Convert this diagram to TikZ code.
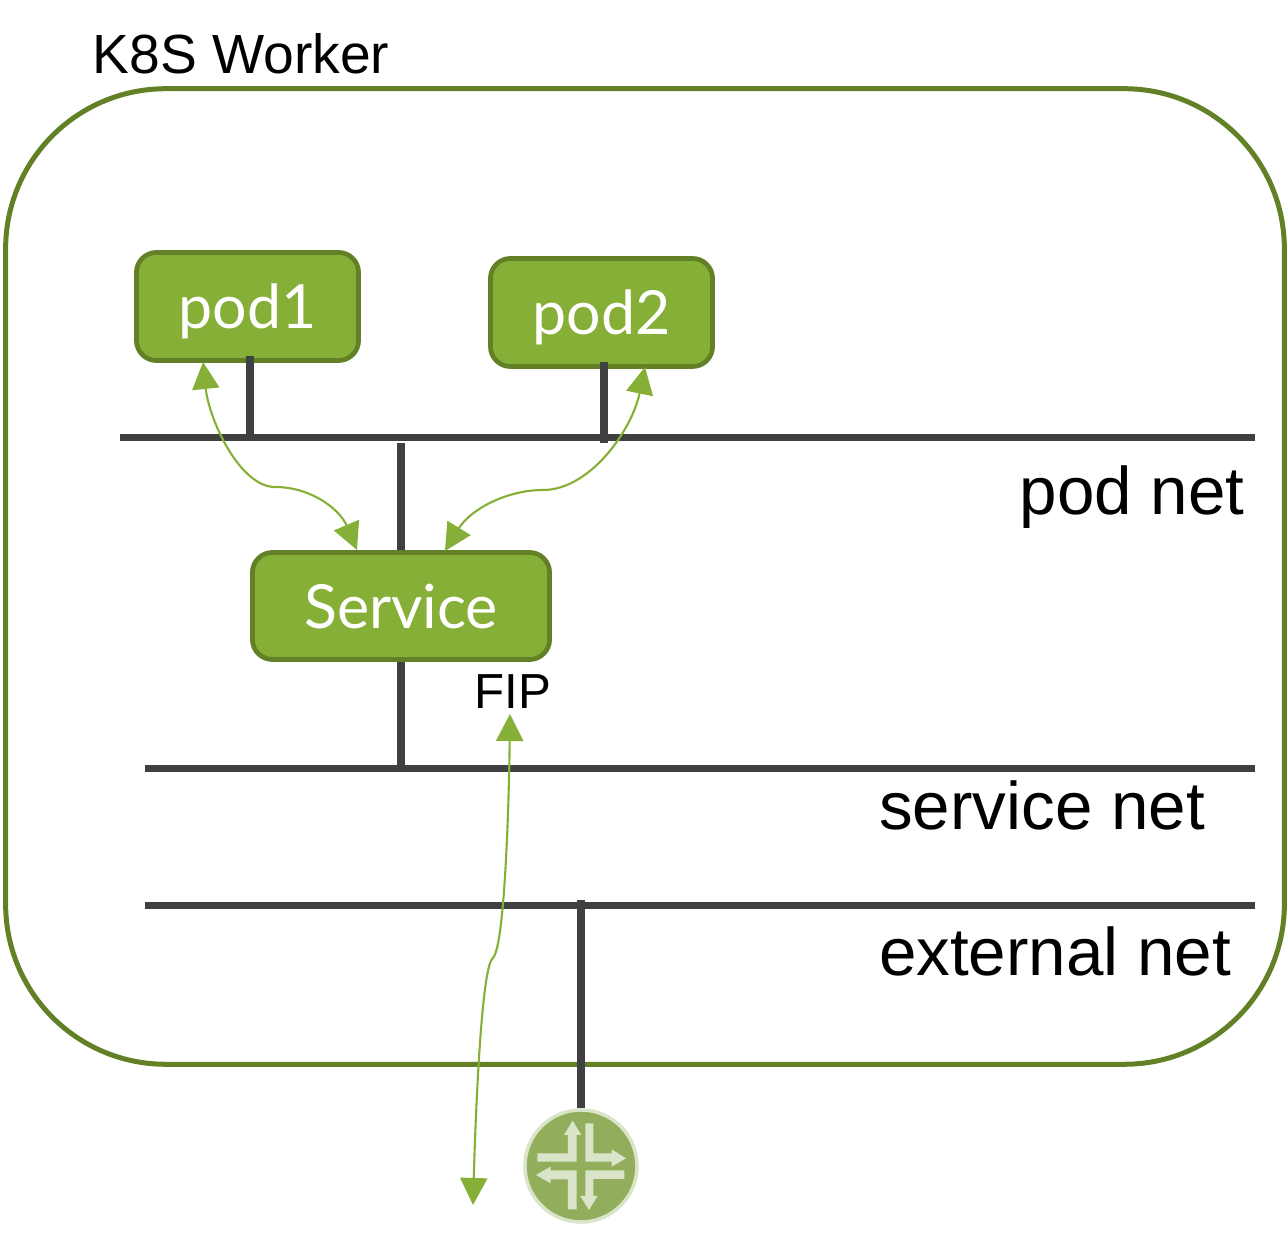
\documentclass[tikz,border=0pt]{standalone}
\usepackage{fontspec}
\setmainfont{Liberation Sans}
\newfontfamily\latofont{Lato}
\usepackage{xcolor}
\usepackage{tikz}
\usetikzlibrary{arrows.meta, positioning}
\definecolor{boxfill}{HTML}{85AF36}
\definecolor{boxedge}{HTML}{628126}
\definecolor{netgray}{HTML}{404040}
\definecolor{routerfill}{HTML}{92AE5C}
\definecolor{routerpale}{HTML}{DAE4C8}
\tikzset{
  podbox/.style = {draw = boxedge, fill = boxfill, line width = 0.047cm, rounded corners = 0.2cm, text = white, font = \latofont\fontsize{17.3}{21}\selectfont, minimum width = 2.22cm, minimum height = 1.08cm, inner sep = 0pt, text height = 0.6cm, text depth = 0.16cm},
  netlabel/.style = {font = \fontsize{19.15}{23}\selectfont, inner sep = 0pt},
  netline/.style = {draw = netgray, line width = 0.072cm},
  flow/.style = {draw = boxfill, line width = 0.6pt, {Triangle[length = 0.27cm, width = 0.27cm]}-{Triangle[length = 0.27cm, width = 0.27cm]}},
}

\begin{document}
\begin{tikzpicture}[x = 0.01cm, y = -0.01cm]
\useasboundingbox (0, 0) rectangle (1287, 1237);
\node[draw = boxedge, line width = 0.05cm, rounded corners = 1.6cm, minimum width = 12.78cm, minimum height = 9.75cm] at (645, 576.5) (worker) {};
\node[font = \fontsize{15.7}{19}\selectfont, inner sep = 0pt] at (241, 54) (workerlabel) {K8S Worker};
\node[podbox] at (247.5, 306.5) (pod1) {pod1};
\node[podbox] at (601.5, 312.5) (pod2) {pod2};
\node[podbox, minimum width = 2.97cm, minimum height = 1.07cm] at (401, 606) (service) {Service};
\node[font = \fontsize{14}{17}\selectfont, inner sep = 0pt] at (513, 692) (fip) {FIP};
\node[netlabel] at (1132, 497) (podlabel) {pod net};
\node[netlabel] at (1042, 805) (servicelabel) {service net};
\node[netlabel] at (1055, 951) (externallabel) {external net};
\node[circle, draw = routerpale, fill = routerfill, line width = 0.035cm, minimum size = 1.12cm, inner sep = 0pt] at (581, 1166) (router) {};
% router arrows
\begin{scope}[shift = {(440, 1090)}, scale = 0.3333]
\fill[routerpale] (292, 190) -- (384, 190) -- (384, 135) -- (372, 135) -- (398, 92) -- (424, 135) -- (410, 135) -- (410, 215) -- (292, 215) -- cycle;
\fill[routerpale] (436, 100) -- (460, 100) -- (460, 190) -- (515, 190) -- (515, 178) -- (558, 205) -- (515, 230) -- (515, 215) -- (436, 215) -- cycle;
\fill[routerpale] (288, 255) -- (332, 230) -- (332, 241) -- (410, 241) -- (410, 358) -- (384, 358) -- (384, 268) -- (332, 268) -- (332, 280) -- cycle;
\fill[routerpale] (553, 241) -- (553, 267) -- (460, 267) -- (460, 318) -- (473, 318) -- (447, 360) -- (421, 318) -- (436, 318) -- (436, 241) -- cycle;
\end{scope}
% nets
\coordinate (podnetw) at (120, 437.5);
\coordinate (podnete) at (1255, 437.5);
\coordinate (servicenetw) at (145, 768.5);
\coordinate (servicenete) at (1255, 768.5);
\coordinate (externalnetw) at (145, 905.5);
\coordinate (externalnete) at (1255, 905.5);
\draw[netline] (podnetw) -- (podnete);
\draw[netline] (servicenetw) -- (servicenete);
\draw[netline] (externalnetw) -- (externalnete);
% drops
\coordinate (pod1top) at (250, 356);
\coordinate (pod1foot) at (250, 437);
\coordinate (pod2top) at (604, 362);
\coordinate (pod2foot) at (604, 443);
\coordinate (servicetop) at (401, 443);
\coordinate (servicefoot) at (401, 768);
\coordinate (routertop) at (581, 900);
\draw[netline] (pod1top) -- (pod1foot);
\draw[netline] (pod2top) -- (pod2foot);
\draw[netline] (servicetop) -- (service.north -| servicetop);
\draw[netline] (service.south -| servicefoot) -- (servicefoot);
\draw[netline] (routertop) -- (router);
% flows
\coordinate (pod1tip) at (203, 362);
\coordinate (pod1bend) at (275, 487);
\coordinate (svctipa) at (357, 550);
\coordinate (pod2tip) at (645, 367);
\coordinate (pod2bend) at (543, 490);
\coordinate (svctipb) at (445, 551);
\coordinate (fiptip) at (510, 714);
\coordinate (fipbend) at (493, 958);
\coordinate (outtip) at (473, 1205);
\draw[flow] (pod1tip) .. controls (209, 420) and (240, 487) .. (pod1bend) .. controls (312, 487) and (340, 510) .. (svctipa);
\draw[flow] (pod2tip) .. controls (632, 430) and (590, 490) .. (pod2bend) .. controls (506, 490) and (470, 510) .. (svctipb);
\draw[flow] (fiptip) .. controls (509, 800) and (505, 945) .. (fipbend) .. controls (482, 965) and (476, 1100) .. (outtip);
\end{tikzpicture}
\end{document}
